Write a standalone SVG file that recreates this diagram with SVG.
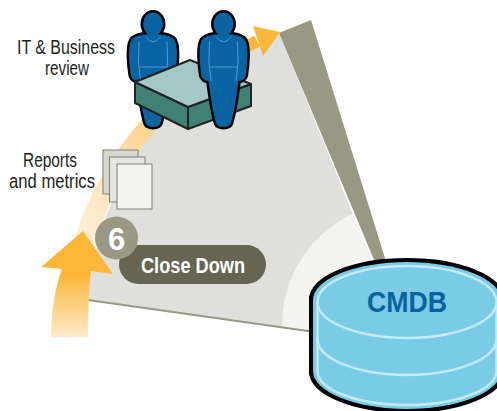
<svg xmlns="http://www.w3.org/2000/svg" width="497" height="411" viewBox="0 0 497 411">
  <defs>
    <style>
      .lbl{font-family:"Liberation Sans Narrow","Liberation Sans",Arial,sans-serif;font-size:19.5px;fill:#231f20;text-anchor:middle}
      .wtxt{font-family:"Liberation Sans Narrow","Liberation Sans",Arial,sans-serif;font-weight:bold;fill:#ffffff;text-anchor:middle}
      .person-edge{fill:#000000;stroke:#000000;stroke-width:5;stroke-linejoin:round}
      .person-fill{fill:#0a64a4}
      .person-line{fill:none;stroke:#4f9bd6;stroke-width:1;stroke-linecap:round}
      .box-top{fill:#a5c8c4;stroke:#222222;stroke-width:2;stroke-linejoin:round}
      .box-side{fill:#3f8174;stroke:#222222;stroke-width:2;stroke-linejoin:round}
      .page{stroke:#7f7f75;stroke-width:1}
      .cyl-light{fill:none;stroke:#c3ebf7;stroke-width:2.5}
    </style>
    <linearGradient id="bandGrad" gradientUnits="userSpaceOnUse" x1="80" y1="250" x2="258" y2="40">
      <stop offset="0" stop-color="#fff0da"/>
      <stop offset="0.3" stop-color="#fee3b4"/>
      <stop offset="0.5" stop-color="#fdd48e"/>
      <stop offset="0.7" stop-color="#fcc460"/>
      <stop offset="0.86" stop-color="#fbb83a"/>
      <stop offset="1" stop-color="#fbb735"/>
    </linearGradient>
    <linearGradient id="upGrad" gradientUnits="userSpaceOnUse" x1="0" y1="231" x2="0" y2="337">
      <stop offset="0" stop-color="#fbb735"/>
      <stop offset="0.4" stop-color="#fbb735"/>
      <stop offset="1" stop-color="#feeacb"/>
    </linearGradient>
    <clipPath id="sectorClip">
      <path d="M88,300 A318,318 0 0 1 279,33 L400,330 L400,344 Z"/>
    </clipPath>
    <!-- person silhouette, origin at head centre -->
    <g id="personShape">
      <ellipse cx="0" cy="0" rx="10" ry="11.5"/>
      <path d="M-5,10 C-12,11 -20,12 -22,17 C-25,23 -24,40 -22,52 C-21,55 -18,57 -15,57 C-13,72 -10,92 -7,100 C-5,104 5,104 7,100 C10,92 13,72 15,57 C18,57 21,55 22,52 C24,40 25,23 22,17 C20,12 12,11 5,10 Z"/>
    </g>
    <g id="personLines">
      <path d="M-7,13 Q0,23 7.5,13"/>
      <path d="M-14,18 Q-16,38 -12.5,57"/>
      <path d="M14,18 Q16,38 12.5,57"/>
      <path d="M-13,43 L13,43"/>
    </g>
  </defs>

  <rect width="497" height="411" fill="#ffffff"/>

  <!-- lifecycle sector -->
  <g id="sector">
    <path d="M88,300 A318,318 0 0 1 279,33 L400,330 L400,344 Z" fill="#dfe0db"/>
    <circle cx="405" cy="325" r="123" fill="#f3f3f0" clip-path="url(#sectorClip)"/>
    <polygon points="279,33 311,20 398,300 395,310" fill="#999883"/>
    <line x1="88" y1="300" x2="400" y2="344" stroke="#999883" stroke-width="1.8"/>
  </g>

  <!-- flow arrows -->
  <g id="connectors">
    <path d="M71.8,248.1 A334,334 0 0 1 254.5,35.8 L260,46.5 A317,317 0 0 0 93.2,253 Z" fill="url(#bandGrad)"/>
    <polygon points="253,26 280,32 263,56" fill="#fbb735"/>
    <path d="M83,231 L113,274 L91,271 Q88,300 88,337 L51,337 Q52,295 62,269 L41,267 Z" fill="url(#upGrad)"/>
  </g>

  <!-- IT & Business review: two people carrying a box -->
  <g id="review">
    <g transform="translate(153,24)">
      <use href="#personShape" class="person-edge"/>
      <use href="#personShape" class="person-fill"/>
      <use href="#personLines" class="person-line"/>
    </g>
    <polygon class="box-side" points="135,82 188,107 188,129 135,103"/>
    <polygon class="box-side" points="188,107 251,84 251,106 188,129"/>
    <polygon class="box-top" points="135,82 190,60 251,84 188,107"/>
    <g transform="translate(223.5,24)">
      <use href="#personShape" class="person-edge"/>
      <use href="#personShape" class="person-fill"/>
      <use href="#personLines" class="person-line"/>
    </g>
    <text class="lbl" x="66" y="54" textLength="98" lengthAdjust="spacingAndGlyphs">IT &amp; Business</text>
    <text class="lbl" x="67" y="75" textLength="44" lengthAdjust="spacingAndGlyphs">review</text>
  </g>

  <!-- Reports and metrics -->
  <g id="reports">
    <rect class="page" x="103" y="150" width="35" height="44" fill="#d8d8d0"/>
    <rect class="page" x="109.5" y="157" width="35.5" height="45" fill="#e6e6e0"/>
    <rect class="page" x="117" y="164" width="35" height="45" fill="#f4f4f0"/>
    <text class="lbl" x="50" y="167" textLength="54" lengthAdjust="spacingAndGlyphs">Reports</text>
    <text class="lbl" x="52" y="188" textLength="86" lengthAdjust="spacingAndGlyphs">and metrics</text>
  </g>

  <!-- step 6 badge -->
  <g id="close-down">
    <rect x="119" y="245" width="147" height="39" rx="19.5" fill="#666552"/>
    <text class="wtxt" x="193" y="273" font-size="22" textLength="104" lengthAdjust="spacingAndGlyphs">Close Down</text>
    <circle cx="116.5" cy="238" r="21.5" fill="#999883"/>
    <text class="wtxt" x="116.5" y="250" font-size="31">6</text>
  </g>

  <!-- CMDB cylinder -->
  <g id="cmdb">
    <g stroke="#000000" stroke-width="8" fill="#000000">
      <rect x="313" y="300" width="188" height="71"/>
      <ellipse cx="407" cy="371" rx="94" ry="38"/>
      <ellipse cx="407" cy="300" rx="94" ry="38"/>
    </g>
    <g fill="#79cbe6">
      <rect x="313" y="300" width="188" height="71"/>
      <ellipse cx="407" cy="371" rx="94" ry="38"/>
      <ellipse cx="407" cy="300" rx="94" ry="38"/>
    </g>
    <path class="cyl-light" d="M317.5,302 L317.5,371 A89.5,34 0 0 0 496.5,371 L496.5,302"/>
    <ellipse class="cyl-light" cx="407" cy="302" rx="89.5" ry="36"/>
    <path class="cyl-light" d="M317.5,339 A89.5,36 0 0 0 496.5,339"/>
    <text x="407" y="312" font-family="'Liberation Sans Narrow','Liberation Sans',Arial,sans-serif" font-weight="bold" font-size="29" fill="#0a62a0" text-anchor="middle" textLength="80" lengthAdjust="spacingAndGlyphs">CMDB</text>
  </g>
</svg>
